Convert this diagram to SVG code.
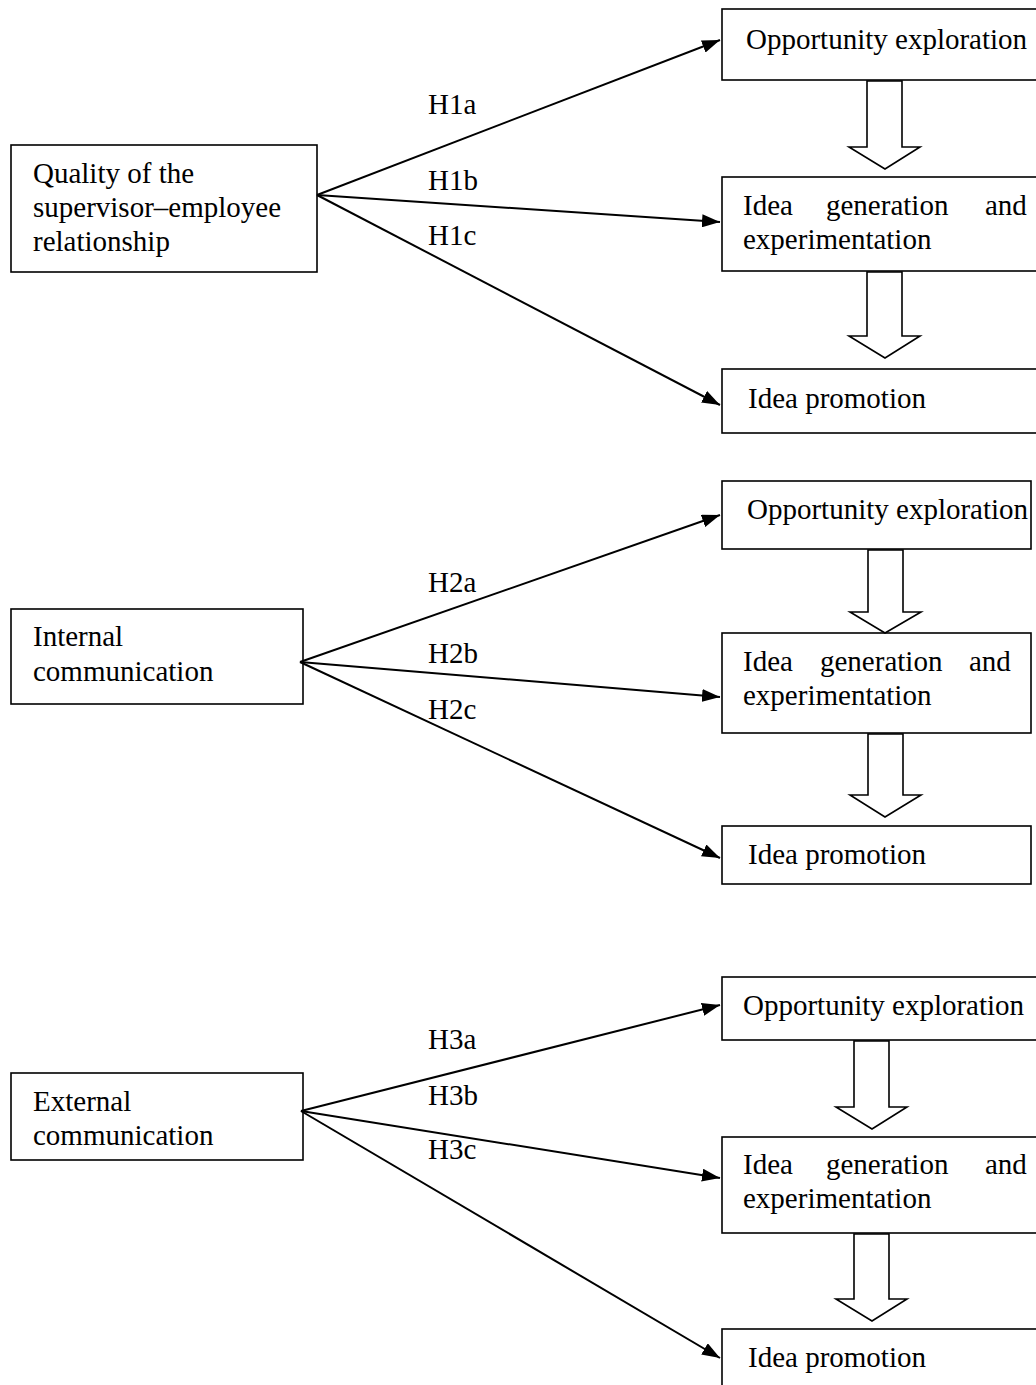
<svg xmlns="http://www.w3.org/2000/svg" width="1036" height="1385" viewBox="0 0 1036 1385">
<style>
.box{fill:#fff;stroke:#000;stroke-width:1.6}
.blk{fill:#fff;stroke:#000;stroke-width:1.6}
.t{font-family:"Liberation Serif","Times New Roman",serif;font-size:29px;fill:#000}
.c{stroke:#000;stroke-width:2;fill:none;marker-end:url(#ah)}
</style>
<defs>
<marker id="ah" markerUnits="userSpaceOnUse" markerWidth="19" markerHeight="13" refX="18" refY="6.5" orient="auto">
<path d="M0,0 L18,6.5 L0,13 z" fill="#000"/>
</marker>
</defs>
<rect width="1036" height="1385" fill="#fff"/>

<!-- Group 1 -->
<g id="src1"><rect class="box" x="11" y="145" width="306" height="127"/>
<text class="t" x="33" y="183">Quality of the</text>
<text class="t" x="33" y="217">supervisor–employee</text>
<text class="t" x="33" y="251">relationship</text></g>
<g id="oe1"><rect class="box" x="722" y="9" width="330" height="71"/>
<text class="t" x="746" y="49">Opportunity exploration</text></g>
<g id="ig1"><rect class="box" x="722" y="177" width="330" height="94"/>
<text class="t" y="215"><tspan x="743">Idea</tspan><tspan x="826">generation</tspan><tspan x="985">and</tspan></text>
<text class="t" x="743" y="249">experimentation</text></g>
<g id="ip1"><rect class="box" x="722" y="369" width="330" height="64"/>
<text class="t" x="748" y="408">Idea promotion</text></g>
<g id="ba1a"><polygon class="blk" points="867,81 902,81 902,147 920,147 885,169 849,147 867,147"/></g>
<g id="ba1b"><polygon class="blk" points="867,272 902,272 902,336 920,336 885,358 849,336 867,336"/></g>

<!-- Group 2 -->
<g id="src2"><rect class="box" x="11" y="609" width="292" height="95"/>
<text class="t" x="33" y="646">Internal</text>
<text class="t" x="33" y="681">communication</text></g>
<g id="oe2"><rect class="box" x="722" y="481" width="309" height="68"/>
<text class="t" x="747" y="519">Opportunity exploration</text></g>
<g id="ig2"><rect class="box" x="722" y="633" width="309" height="100"/>
<text class="t" y="671"><tspan x="743">Idea</tspan><tspan x="820">generation</tspan><tspan x="969">and</tspan></text>
<text class="t" x="743" y="705">experimentation</text></g>
<g id="ip2"><rect class="box" x="722" y="826" width="309" height="58"/>
<text class="t" x="748" y="864">Idea promotion</text></g>
<g id="ba2a"><polygon class="blk" points="868,550 903,550 903,612 921,612 885,633 850,612 868,612"/></g>
<g id="ba2b"><polygon class="blk" points="868,734 903,734 903,795 921,795 885,817 850,795 868,795"/></g>

<!-- Group 3 -->
<g id="src3"><rect class="box" x="11" y="1073" width="292" height="87"/>
<text class="t" x="33" y="1111">External</text>
<text class="t" x="33" y="1145">communication</text></g>
<g id="oe3"><rect class="box" x="722" y="977" width="330" height="63"/>
<text class="t" x="743" y="1015">Opportunity exploration</text></g>
<g id="ig3"><rect class="box" x="722" y="1137" width="330" height="96"/>
<text class="t" y="1174"><tspan x="743">Idea</tspan><tspan x="826">generation</tspan><tspan x="985">and</tspan></text>
<text class="t" x="743" y="1208">experimentation</text></g>
<g id="ip3"><rect class="box" x="722" y="1329" width="330" height="80"/>
<text class="t" x="748" y="1367">Idea promotion</text></g>
<g id="ba3a"><polygon class="blk" points="854,1041 889,1041 889,1107 907,1107 872,1129 836,1107 854,1107"/></g>
<g id="ba3b"><polygon class="blk" points="854,1234 889,1234 889,1299 907,1299 872,1321 836,1299 854,1299"/></g>

<!-- Connectors -->
<g id="connectors">
<line class="c" x1="317" y1="195" x2="720" y2="40"/>
<line class="c" x1="317" y1="195" x2="720" y2="222"/>
<line class="c" x1="317" y1="195" x2="720" y2="405"/>
<line class="c" x1="300" y1="662" x2="720" y2="515"/>
<line class="c" x1="300" y1="662" x2="720" y2="697"/>
<line class="c" x1="300" y1="662" x2="720" y2="858"/>
<line class="c" x1="301" y1="1111" x2="720" y2="1005"/>
<line class="c" x1="301" y1="1111" x2="720" y2="1178"/>
<line class="c" x1="301" y1="1111" x2="720" y2="1358"/>
</g>

<!-- Labels -->
<g id="labels">
<text class="t" x="428" y="114">H1a</text>
<text class="t" x="428" y="190">H1b</text>
<text class="t" x="428" y="245">H1c</text>
<text class="t" x="428" y="592">H2a</text>
<text class="t" x="428" y="663">H2b</text>
<text class="t" x="428" y="719">H2c</text>
<text class="t" x="428" y="1049">H3a</text>
<text class="t" x="428" y="1105">H3b</text>
<text class="t" x="428" y="1159">H3c</text>
</g>
</svg>
